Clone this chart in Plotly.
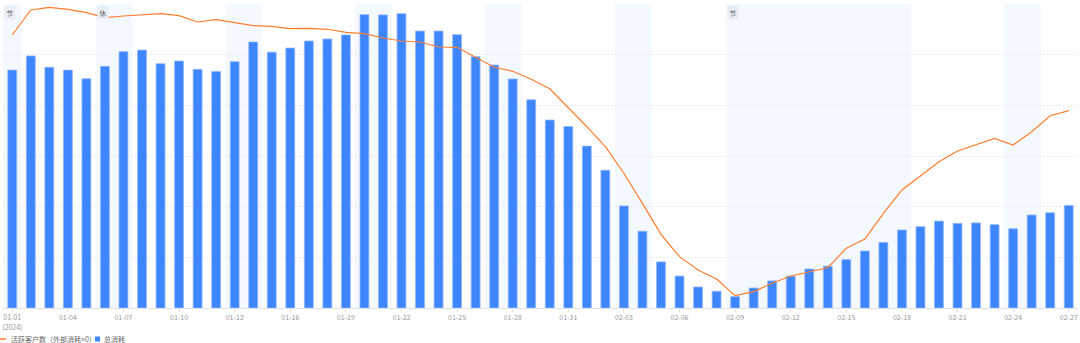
import plotly.graph_objects as go
import pandas as pd

# ---------------- data ----------------
dates = [d.strftime("%m-%d") for d in pd.date_range("2024-01-01", "2024-02-27")]

total_spend = [
    93.9, 99.5, 95.0, 93.9, 90.5, 95.4, 101.2, 101.8, 96.4, 97.5,
    94.2, 93.4, 97.2, 105.0, 101.0, 102.6, 105.4, 106.2, 107.8, 115.8,
    115.7, 116.2, 109.3, 109.3, 107.9, 99.2, 95.9, 90.4, 82.2, 74.2,
    71.6, 63.9, 54.4, 40.3, 30.3, 18.2, 12.6, 8.3, 6.6, 4.5,
    7.9, 10.7, 12.6, 15.4, 16.5, 19.1, 22.5, 25.9, 30.8, 32.1,
    34.3, 33.4, 33.6, 32.9, 31.3, 36.7, 37.6, 40.5,
]

active_customers = [
    538.8, 588.2, 593.5, 589.5, 582.8, 573.0, 576.3, 578.9, 580.9, 576.9,
    564.5, 569.0, 562.5, 557.2, 556.0, 551.3, 552.0, 550.1, 544.1, 541.4,
    532.9, 527.0, 525.0, 515.1, 514.5, 494.8, 475.1, 467.2, 451.4, 432.8,
    395.7, 357.8, 318.4, 265.9, 206.6, 145.5, 101.3, 75.0, 57.2, 24.3,
    32.2, 48.8, 63.2, 71.6, 79.5, 117.8, 136.2, 186.9, 232.9, 260.5,
    288.7, 309.9, 323.1, 334.9, 321.7, 348.0, 379.5, 389.4,
]

tick_dates = dates[::3]
tick_labels = ["01-01<br>(2024)"] + tick_dates[1:]

# non-working periods: (start, end, badge label)
off_starts = ["01-01", "01-06", "01-13", "01-20", "01-27", "02-03", "02-09", "02-24"]
off_ends   = ["01-01", "01-07", "01-14", "01-21", "01-28", "02-04", "02-18", "02-25"]
off_badges = ["节", "休", None, None, None, None, "节", None]

line_name = "活跃客户数（外部消耗>0）"
bar_name = "总消耗"

# ---------------- style ----------------
FONT = "Noto Sans CJK SC, Roboto, sans-serif"
BLUE = "#3e86ff"
ORANGE = "#ff7d2e"
GRID = "#e6e8ec"
SHADE = "#f4f8ff"

fig = go.Figure()

fig.add_trace(go.Bar(
    x=dates, y=total_spend, name=bar_name,
    marker=dict(color=BLUE, line=dict(color="#8fb6ff", width=0.8)),
    showlegend=False, yaxis="y",
))
fig.add_trace(go.Scatter(
    x=dates, y=active_customers, name=line_name, mode="lines",
    line=dict(color=ORANGE, width=1.2),
    showlegend=False, yaxis="y2",
))

shapes = []
annotations = []
for s, e, b in zip(off_starts, off_ends, off_badges):
    i0 = dates.index(s)
    i1 = dates.index(e)
    shapes.append(dict(type="rect", xref="x", yref="paper",
                       x0=i0 - 0.5, x1=i1 + 0.5, y0=0, y1=1,
                       fillcolor=SHADE, line=dict(width=0), layer="below"))
    if b:
        annotations.append(dict(
            text=b, xref="x", yref="paper", x=i0 - 0.5, y=1,
            xanchor="left", yanchor="top", xshift=1, yshift=-1,
            showarrow=False, bgcolor="#e9edf5", borderpad=1.5,
            font=dict(size=6.5, color="#666", family=FONT)))

# custom compact legend (bottom-left)
W, H, L, T = 1075.0, 304.0, 3.0, 4.0
def px(xp):
    return (xp - L) / W
def py(yp):
    return (T + H - yp) / H

ly = 339
shapes.append(dict(type="line", xref="paper", yref="paper",
                   x0=px(0), x1=px(6), y0=py(ly), y1=py(ly),
                   line=dict(color=ORANGE, width=1.5)))
annotations.append(dict(text=line_name, xref="paper", yref="paper",
                        x=px(9), y=py(ly), xanchor="left", yanchor="middle",
                        showarrow=False, font=dict(size=7, color="#666", family=FONT)))
shapes.append(dict(type="rect", xref="paper", yref="paper",
                   x0=px(95), x1=px(100), y0=py(ly - 2.5), y1=py(ly + 2.5),
                   fillcolor=BLUE, line=dict(width=0)))
annotations.append(dict(text=bar_name, xref="paper", yref="paper",
                        x=px(102), y=py(ly), xanchor="left", yanchor="middle",
                        showarrow=False, font=dict(size=7, color="#666", family=FONT)))

fig.update_layout(
    width=1080, height=343,
    margin=dict(l=3, r=2, t=4, b=35),
    paper_bgcolor="white", plot_bgcolor="white",
    font=dict(family=FONT, size=7, color="#999"),
    bargap=0.52,
    showlegend=False,
    shapes=shapes,
    annotations=annotations,
    xaxis=dict(
        type="category", categoryorder="array", categoryarray=dates,
        range=[-0.5, len(dates) - 0.5],
        tickmode="array", tickvals=tick_dates, ticktext=tick_labels,
        tickangle=0,
        showline=True, linecolor="#dfe1e6", linewidth=1,
        ticks="outside", ticklen=3, tickcolor="#dfe1e6",
        showgrid=False, zeroline=False,
        tickfont=dict(size=7, color="#999", family=FONT),
    ),
    yaxis=dict(
        range=[0, 120], dtick=20, tick0=0,
        showgrid=True, gridcolor=GRID, griddash="2px,2px", gridwidth=1,
        showticklabels=False, zeroline=False, showline=False, ticks="",
    ),
    yaxis2=dict(
        range=[0, 600], overlaying="y", side="right",
        showgrid=False, showticklabels=False, zeroline=False, showline=False, ticks="",
    ),
)

fig.write_html("out.html")
